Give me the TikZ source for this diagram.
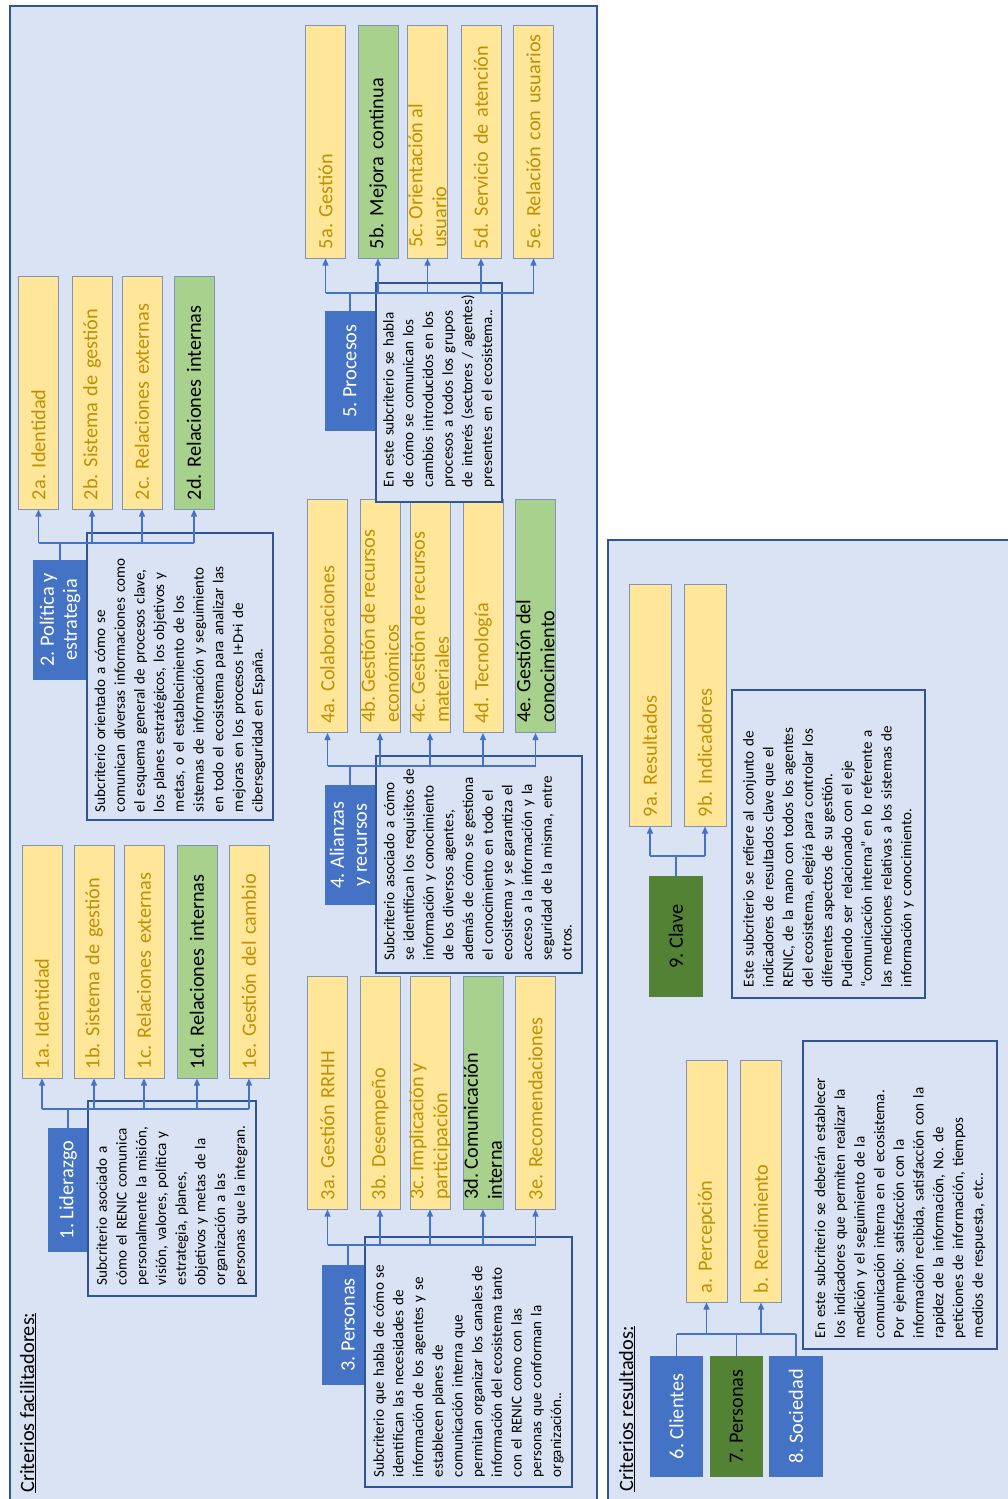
\documentclass[tikz,border=0pt]{standalone}
\usepackage{fontspec}
\setmainfont{Carlito}
\usetikzlibrary{arrows.meta}

\definecolor{bg}{HTML}{DAE3F3}
\definecolor{panelline}{HTML}{2F5597}
\definecolor{hblue}{HTML}{4472C4}
\definecolor{hgreen}{HTML}{548235}
\definecolor{yel}{HTML}{FFE699}
\definecolor{grn}{HTML}{A9D18E}
\definecolor{gold}{HTML}{BF9000}
\definecolor{boxedge}{HTML}{7F92B8}
\definecolor{cblue}{HTML}{4472C4}

\newcommand{\labfont}{\fontsize{20.3}{24}\selectfont\frenchspacing}
\newcommand{\descfont}{\fontsize{15.1}{19.7}\selectfont\frenchspacing}
% unbreakable block of hand-broken lines
\newcommand{\lns}[1]{\begin{tabular}{@{}l@{}}#1\end{tabular}}

\tikzset{
  panel/.style={draw=panelline, line width=2.5pt, fill=bg},
  sub/.style={rotate=90, draw=boxedge, line width=1pt, inner xsep=9pt,
    inner ysep=0pt, text width=215pt, minimum height=40pt, align=left,
    font=\labfont},
  ybox/.style={sub, fill=yel, text=gold},
  gbox/.style={sub, fill=grn, text=black},
  twoline/.style={rotate=90, anchor=west, align=left, inner sep=0pt,
    font=\labfont},
  head/.style={rotate=90, inner sep=0pt, align=center, font=\labfont,
    minimum width=120pt, minimum height=50pt},
  bhead/.style={head, fill=hblue, text=white},
  ghead/.style={head, fill=hgreen, text=black},
  desc/.style={rotate=90, draw=panelline, line width=2pt, fill=bg,
    inner ysep=0pt, align=left, font=\descfont},
  title/.style={rotate=90, anchor=base west, inner sep=0pt, font=\labfont},
  conn/.style={draw=cblue, line width=1.3pt},
  arr/.style={conn, -{Triangle[length=7pt,width=6pt]}}
}

\begin{document}
\begin{tikzpicture}[x=1pt,y=-1pt]
\useasboundingbox (0,0) rectangle (1008,1499);
\fill[white] (0,0) rectangle (1008,1499);
\clip (0,0) rectangle (1008,1499);

% the two panels
\draw[panel] (10,6) rectangle (597,1530);
\draw[panel] (608,540) rectangle (1040,1530);

% panel titles
\node[title] (tfac) at (34,1493) {\underline{Criterios facilitadores:}};
\node[title] (tres) at (633,1492) {\underline{Criterios resultados:}};

% ---------- 1. Liderazgo ----------
\node[ybox] (b1a) at (42,961.5) {1a. Identidad};
\node[ybox] (b1b) at (94,961.5) {1b. Sistema de gestión};
\node[ybox] (b1c) at (144,961.5) {1c. Relaciones externas};
\node[gbox] (b1d) at (197,961.5) {1d. Relaciones internas};
\node[ybox] (b1e) at (249,961.5) {1e. Gestión del cambio};

% ---------- 2. Política y estrategia ----------
\node[ybox] (b2a) at (38.5,392.5) {2a. Identidad};
\node[ybox] (b2b) at (92,392.5) {2b. Sistema de gestión};
\node[ybox] (b2c) at (142,392.5) {2c. Relaciones externas};
\node[gbox] (b2d) at (194,392.5) {2d. Relaciones internas};

% ---------- 3. Personas ----------
\node[ybox] (b3a) at (327.5,1092.5) {3a. Gestión RRHH};
\node[ybox] (b3b) at (380,1092.5) {3b. Desempeño};
\node[ybox] (b3c) at (430,1092.5) {};
\node[gbox] (b3d) at (483,1092.5) {};
\node[ybox] (b3e) at (535.5,1092.5) {3e. Recomendaciones};

% ---------- 4. Alianzas y recursos ----------
\node[ybox] (b4a) at (327.5,616) {4a. Colaboraciones};
\node[ybox] (b4b) at (380,616) {};
\node[ybox] (b4c) at (430,616) {};
\node[ybox] (b4d) at (483,616) {4d. Tecnología};
\node[gbox] (b4e) at (535.5,616) {};

% ---------- 5. Procesos ----------
\node[ybox] (b5a) at (325.5,141.5) {5a. Gestión};
\node[gbox] (b5b) at (378,141.5) {5b. Mejora continua};
\node[ybox] (b5c) at (427.5,141.5) {};
\node[ybox] (b5d) at (481,141.5) {5d. Servicio de atención};
\node[ybox] (b5e) at (533.5,141.5) {\mbox{5e. Relación con usuarios}};

% ---------- results ----------
\node[ybox, text width=224pt, minimum height=41pt] (bra) at (706.5,1181) {a. Percepción};
\node[ybox, text width=224pt, minimum height=41pt] (brb) at (761,1181) {b. Rendimiento};
\node[ybox, text width=224pt, minimum height=42pt] (b9a) at (650,705) {9a. Resultados};
\node[ybox, text width=224pt, minimum height=42pt] (b9b) at (705,705) {9b. Indicadores};

% headers
\node[bhead, minimum width=124pt, minimum height=40pt] (h1) at (68,1190) {1. Liderazgo};
\node[bhead, minimum height=54pt] (h2) at (60,620) {2. Política y\\[-1pt]estrategia};
\node[bhead, minimum height=52pt] (h3) at (348,1325) {3. Personas};
\node[bhead] (h4) at (350,845) {4. Alianzas\\[-1pt]y recursos};
\node[bhead] (h5) at (350,371) {5. Procesos};
\node[bhead, minimum width=121pt, minimum height=53pt] (h6) at (676.5,1416.5) {6. Clientes};
\node[ghead, minimum width=121pt, minimum height=53pt] (h7) at (736.5,1416.5) {7. Personas};
\node[bhead, minimum width=121pt, minimum height=54pt] (h8) at (796,1416.5) {8. Sociedad};
\node[ghead, minimum width=121pt, minimum height=54pt] (h9) at (676,936.5) {9. Clave};

% description boxes
\node[desc, inner xsep=11pt, text width=173pt, minimum height=168pt] (d1) at (172,1198.5) {\lns{%
Subcriterio asociado a\\
cómo el RENIC comunica\\
personalmente la misión,\\
visión, valores, política y\\
estrategia, planes,\\
objetivos y metas de la\\
organización a las\\
personas que la integran.}};

\node[desc, inner xsep=8pt, text width=271pt, minimum height=186pt] (d2) at (180,676.5) {\lns{%
Subcriterio orientado a cómo se\\
comunican diversas informaciones como\\
el esquema general de procesos clave,\\
los planes estratégicos, los objetivos y\\
metas, o el establecimiento de los\\
sistemas de información y seguimiento\\
en todo el ecosistema para analizar las\\
mejoras en los procesos I+D+i de\\
ciberseguridad en España.}};

\node[desc, inner xsep=10pt, text width=230pt, minimum height=207pt] (d3) at (468.5,1362) {\lns{%
Subcriterio que habla de cómo se\\
identifican las necesidades de\\
información de los agentes y se\\
establecen planes de\\
comunicación interna que\\
permitan organizar los canales de\\
información del ecosistema tanto\\
con el RENIC como con las\\
personas que conforman la\\
organización..}};

\node[desc, inner xsep=13pt, text width=191pt, minimum height=206pt] (d4) at (479,864.5) {\lns{%
Subcriterio asociado a cómo\\
se identifican los requisitos de\\
información y conocimiento\\
de los diversos agentes,\\
además de cómo se gestiona\\
el conocimiento en todo el\\
ecosistema y se garantiza el\\
acceso a la información y la\\
seguridad de la misma, entre\\
otros.}};

\node[desc, inner xsep=15pt, text width=189pt, minimum height=126pt] (d5) at (439,392.5) {\lns{%
En este subcriterio se habla\\
de cómo se comunican los\\
cambios introducidos en los\\
procesos a todos los grupos\\
de interés (sectores / agentes)\\
presentes en el ecosistema..}};

\node[desc, inner xsep=11pt, text width=286pt, minimum height=194pt] (d6) at (900,1195) {\lns{%
En este subcriterio se deberán establecer\\
los indicadores que permiten realizar la\\
medición y el seguimiento de la\\
comunicación interna en el ecosistema.\\
Por ejemplo: satisfacción con la\\
información recibida, satisfacción con la\\
rapidez de la información, No. de\\
peticiones de información, tiempos\\
medios de respuesta, etc..}};

\node[desc, inner xsep=11pt, text width=286pt, minimum height=193pt] (d9) at (828.5,844) {\lns{%
Este subcriterio se refiere al conjunto de\\
indicadores de resultados clave que el\\
RENIC, de la mano con todos los agentes\\
del ecosistema, elegirá para controlar los\\
diferentes aspectos de su gestión.\\
Pudiendo ser relacionado con el eje\\
“comunicación interna” en lo referente a\\
las mediciones relativas a los sistemas de\\
información y conocimiento.}};

% two-line labels that spill over their boxes
\node[twoline, text=gold] (t3c) at (430,1200) {3c. Implicación y\\participación};
\node[twoline, text=black] (t3d) at (483,1200) {3d. Comunicación\\interna};
\node[twoline, text=gold] (t4b) at (380,723) {4b. Gestión de recursos\\económicos};
\node[twoline, text=gold] (t4c) at (430,723) {4c. Gestión de recursos\\materiales};
\node[twoline, text=black] (t4e) at (535.5,723) {4e. Gestión del\\conocimiento};
\node[twoline, text=gold] (t5c) at (427.5,248) {5c. Orientación al\\usuario};

% connectors: header -> bus -> subcriteria
\coordinate (k1) at (68,1109);
\coordinate (k2) at (60,543);
\coordinate (k3) at (348,1245);
\coordinate (k4) at (350,766);
\coordinate (k5) at (350,293);
\coordinate (k6) at (676.5,1334);
\coordinate (k9) at (676,856);

\draw[conn] (h1.east) -- (h1.east |- k1);
\draw[conn] (b1a.west |- k1) -- (b1e.west |- k1);
\foreach \n in {b1a,b1b,b1c,b1d,b1e} \draw[arr] (\n.west |- k1) -- (\n.west);

\draw[conn] (h2.east) -- (h2.east |- k2);
\draw[conn] (b2a.west |- k2) -- (b2d.west |- k2);
\foreach \n in {b2a,b2b,b2c,b2d} \draw[arr] (\n.west |- k2) -- (\n.west);

\draw[conn] (h3.east) -- (h3.east |- k3);
\draw[conn] (b3a.west |- k3) -- (b3e.west |- k3);
\foreach \n in {b3a,b3b,b3c,b3d,b3e} \draw[arr] (\n.west |- k3) -- (\n.west);

\draw[conn] (h4.east) -- (h4.east |- k4);
\draw[conn] (b4a.west |- k4) -- (b4e.west |- k4);
\foreach \n in {b4a,b4b,b4c,b4d,b4e} \draw[arr] (\n.west |- k4) -- (\n.west);

\draw[conn] (h5.east) -- (h5.east |- k5);
\draw[conn] (b5a.west |- k5) -- (b5e.west |- k5);
\foreach \n in {b5a,b5b,b5c,b5d,b5e} \draw[arr] (\n.west |- k5) -- (\n.west);

\draw[conn] (h6.east) -- (h6.east |- k6);
\draw[conn] (h7.east) -- (h7.east |- k6);
\draw[conn] (h8.east) -- (h8.east |- k6);
\draw[conn] (h6.east |- k6) -- (h8.east |- k6);
\foreach \n in {bra,brb} \draw[arr] (\n.west |- k6) -- (\n.west);

\draw[conn] (h9.east) -- (h9.east |- k9);
\draw[conn] (b9a.west |- k9) -- (b9b.west |- k9);
\foreach \n in {b9a,b9b} \draw[arr] (\n.west |- k9) -- (\n.west);
\end{tikzpicture}
\end{document}
